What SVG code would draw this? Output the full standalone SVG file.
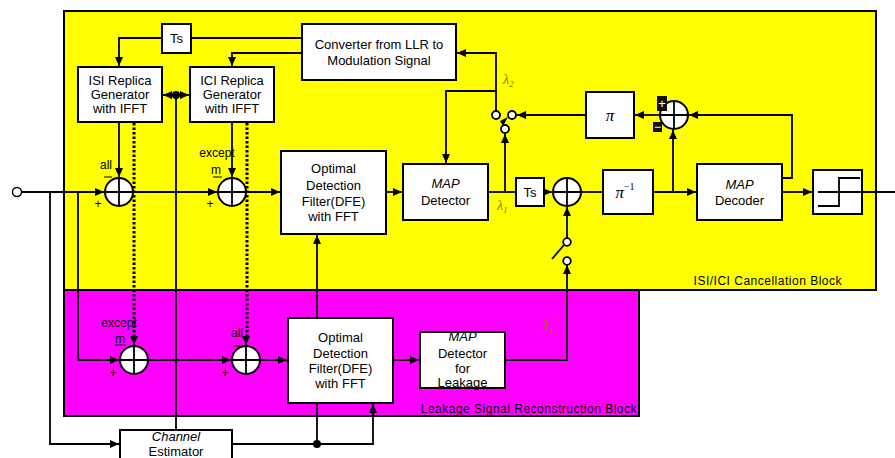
<svg xmlns="http://www.w3.org/2000/svg" width="895" height="458" viewBox="0 0 895 458">
<style>
.box{fill:#fff;stroke:#000;stroke-width:2}
.ln{fill:none;stroke:#000;stroke-width:1.8}
.dot{fill:none;stroke:#000;stroke-width:3;stroke-dasharray:2.5,2}
.t{font-family:"Liberation Sans",Arial,sans-serif;font-size:13px;fill:#000;text-anchor:middle}
.s{font-family:"Liberation Sans",Arial,sans-serif;font-size:12px;fill:#000}
.g{font-family:"Liberation Serif",serif;font-style:italic;fill:#8a7800;font-size:14px}
.pi{font-family:"Liberation Serif",serif;font-style:italic;font-size:17px;text-anchor:middle}
.sum circle{fill:#fff;stroke:#000;stroke-width:2}
.sum path{stroke:#000;stroke-width:1.8}
.sw{fill:#fff;stroke:#000;stroke-width:1.8}
.mn{stroke:#000;stroke-width:1}
</style>
<defs>
<marker id="a" markerWidth="10" markerHeight="10" refX="9" refY="5" orient="auto" markerUnits="userSpaceOnUse"><path d="M0,1 L9,5 L0,9 z" fill="#000"/></marker>
</defs>
<rect width="895" height="458" fill="#fff"/>
<g id="isi-ici-block">
<rect x="64" y="11" width="812" height="279" fill="#ffff00" stroke="#000" stroke-width="2"/>
<text class="s" x="842" y="285" text-anchor="end" style="letter-spacing:0.5px">ISI/ICI Cancellation Block</text>
</g>
<g id="leakage-block">
<rect x="64" y="290" width="575" height="126" fill="#ff00ff" stroke="#000" stroke-width="2"/>
<text class="s" x="637" y="413" text-anchor="end" style="letter-spacing:0.5px">Leakage Signal Reconstruction Block</text>
</g>
<g id="connectors">
<path class="ln" d="M22,192 H104" marker-end="url(#a)"/>
<path class="ln" d="M50,192 V444 H119" marker-end="url(#a)"/>
<path class="ln" d="M78,192 V360 H119" marker-end="url(#a)"/>
<path class="ln" d="M134,192 H217" marker-end="url(#a)"/>
<path class="ln" d="M247,192 H280" marker-end="url(#a)"/>
<path class="ln" d="M162,38 H119 V66" marker-end="url(#a)"/>
<path class="ln" d="M191,38 H302"/>
<path class="ln" d="M302,53 H232 V66" marker-end="url(#a)"/>
<path class="ln" d="M119,122 V177" marker-end="url(#a)"/>
<path class="ln" d="M232,122 V177" marker-end="url(#a)"/>
<path class="dot" d="M134,123 V337"/>
<path class="ln" d="M134,338 V345" marker-end="url(#a)"/>
<path class="dot" d="M247,123 V337"/>
<path class="ln" d="M246,338 V345" marker-end="url(#a)"/>
<path class="ln" d="M176,95 H163" marker-end="url(#a)"/>
<path class="ln" d="M176,95 H189" marker-end="url(#a)"/>
<path class="ln" d="M176,95 V430"/>
<circle cx="176" cy="95" r="4"/>
<path class="ln" d="M386,192 H402" marker-end="url(#a)"/>
<path class="ln" d="M488,192 H515"/>
<path class="ln" d="M544,192 H552" marker-end="url(#a)"/>
<path class="ln" d="M581,192 H603"/>
<path class="ln" d="M653,192 H696" marker-end="url(#a)"/>
<path class="ln" d="M782,192 H812" marker-end="url(#a)"/>
<path class="ln" d="M862,192 H895"/>
<path class="ln" d="M505,192 V134" marker-end="url(#a)"/>
<path class="ln" d="M496,111 V53 H457" marker-end="url(#a)"/>
<path class="ln" d="M496,91 H446 V163" marker-end="url(#a)"/>
<path class="ln" d="M586,115 H517" marker-end="url(#a)"/>
<path class="ln" d="M660,115 H635" marker-end="url(#a)"/>
<path class="ln" d="M673,192 V130" marker-end="url(#a)"/>
<path class="ln" d="M782,178 H792 V115 H689" marker-end="url(#a)"/>
<path class="ln" d="M148,360 H231" marker-end="url(#a)"/>
<path class="ln" d="M260,360 H287" marker-end="url(#a)"/>
<path class="ln" d="M393,360 H419" marker-end="url(#a)"/>
<path class="ln" d="M505,360 H567 V265" marker-end="url(#a)"/>
<path class="ln" d="M567,242 V207" marker-end="url(#a)"/>
<path class="ln" d="M232,444 H373 V404" marker-end="url(#a)"/>
<path class="ln" d="M317,444 V403"/>
<path class="ln" d="M317,318 V235" marker-end="url(#a)"/>
<circle cx="317" cy="444" r="4"/>
</g>
<g id="input-terminal"><circle cx="17" cy="192" r="4.5" fill="#fff" stroke="#000" stroke-width="1.5"/></g>
<g id="ts1"><rect class="box" x="162" y="24" width="29" height="29"/><text class="t" x="176.5" y="43">Ts</text></g>
<g id="isi-replica"><rect class="box" x="78" y="67" width="84" height="55"/>
<text class="t" x="120" y="85">ISI Replica</text><text class="t" x="120" y="99">Generator</text><text class="t" x="120" y="113">with IFFT</text></g>
<g id="ici-replica"><rect class="box" x="190" y="67" width="84" height="55"/>
<text class="t" x="232" y="85">ICI Replica</text><text class="t" x="232" y="99">Generator</text><text class="t" x="232" y="113">with IFFT</text></g>
<g id="converter"><rect class="box" x="302" y="24" width="154" height="56"/>
<text class="t" x="379" y="49">Converter from LLR to</text><text class="t" x="379" y="65">Modulation Signal</text></g>
<g id="sum1" class="sum"><circle cx="119" cy="192" r="14"/><path d="M105,192 H133 M119,178 V206"/></g>
<g id="sum1-labels"><text class="s" x="106" y="169" text-anchor="middle">all</text><path class="mn" d="M104,177 H112"/><text class="s" x="98" y="208" text-anchor="middle">+</text></g>
<g id="sum2" class="sum"><circle cx="232" cy="192" r="14"/><path d="M218,192 H246 M232,178 V206"/></g>
<g id="sum2-labels"><text class="s" x="217" y="157" text-anchor="middle">except</text><text class="s" x="216" y="174" text-anchor="middle">m</text><path class="mn" d="M213,177 H222"/><text class="s" x="210" y="208" text-anchor="middle">+</text></g>
<g id="odf1"><rect class="box" x="281" y="151" width="105" height="83"/>
<text class="t" x="333.5" y="173">Optimal</text><text class="t" x="333.5" y="190">Detection</text><text class="t" x="333.5" y="206">Filter(DFE)</text><text class="t" x="333.5" y="221">with FFT</text></g>
<g id="map-detector"><rect class="box" x="403" y="164" width="85" height="56"/>
<text class="t" x="445.5" y="188" font-style="italic">MAP</text><text class="t" x="445.5" y="205">Detector</text></g>
<g id="lambda1"><text class="g" x="497" y="210">λ<tspan font-size="9" dy="3">1</tspan></text></g>
<g id="lambda2"><text class="g" x="503" y="84">λ<tspan font-size="9" dy="3">2</tspan></text></g>
<g id="switch1">
<path d="M500,121 L508,117 L503,126 z" fill="#000"/>
<circle class="sw" cx="496" cy="115" r="4"/><circle class="sw" cx="512" cy="115" r="4"/><circle class="sw" cx="505" cy="129" r="4"/>
</g>
<g id="ts2"><rect class="box" x="516" y="178" width="28" height="28"/><text class="t" x="530" y="197">Ts</text></g>
<g id="sum3" class="sum"><circle cx="567" cy="192" r="14"/><path d="M553,192 H581 M567,178 V206"/></g>
<g id="switch2"><path class="ln" d="M552,259 L564,245"/><circle class="sw" cx="567" cy="242" r="3.8"/><circle class="sw" cx="567" cy="261" r="3.8"/></g>
<g id="deinterleaver"><rect class="box" x="603" y="170" width="50" height="44"/><text class="pi" x="625" y="198">π<tspan font-size="10" dy="-8" font-style="normal">−1</tspan></text></g>
<g id="interleaver"><rect class="box" x="586" y="92" width="48" height="46"/><text class="pi" x="610" y="121">π</text></g>
<g id="sum4" class="sum"><circle cx="674" cy="115" r="14"/><path d="M660,115 H688 M674,101 V129"/></g>
<g id="sum4-labels"><rect x="657" y="96" width="10" height="15" fill="#111"/><text x="662" y="108" fill="#fff" font-family="Liberation Sans,sans-serif" font-size="13" text-anchor="middle">+</text>
<rect x="653" y="122" width="9" height="10" fill="#111"/><text x="657.5" y="131" fill="#fff" font-family="Liberation Sans,sans-serif" font-size="12" text-anchor="middle">−</text></g>
<g id="map-decoder"><rect class="box" x="697" y="164" width="85" height="56"/>
<text class="t" x="739.5" y="189" font-style="italic">MAP</text><text class="t" x="739.5" y="205">Decoder</text></g>
<g id="hard-decision"><rect class="box" x="813" y="170" width="49" height="44"/><path class="ln" d="M818,206 H839 V178 H860 M818,192 H862"/></g>
<g id="sum5" class="sum"><circle cx="134" cy="360" r="14"/><path d="M120,360 H148 M134,346 V374"/></g>
<g id="sum5-labels"><text class="s" x="119" y="327" text-anchor="middle">except</text><text class="s" x="120" y="343" text-anchor="middle">m</text><path class="mn" d="M115,345 H126"/><text class="s" x="113" y="377" text-anchor="middle">+</text></g>
<g id="sum6" class="sum"><circle cx="246" cy="360" r="14"/><path d="M232,360 H260 M246,346 V374"/></g>
<g id="sum6-labels"><text class="s" x="237" y="337" text-anchor="middle">all</text><path class="mn" d="M233,346 H240"/><text class="s" x="225" y="377" text-anchor="middle">+</text></g>
<g id="odf2"><rect class="box" x="288" y="318" width="105" height="85"/>
<text class="t" x="340.5" y="342">Optimal</text><text class="t" x="340.5" y="358">Detection</text><text class="t" x="340.5" y="373">Filter(DFE)</text><text class="t" x="340.5" y="388">with FFT</text></g>
<g id="map-leakage"><rect class="box" x="420" y="332" width="85" height="56"/>
<text class="t" x="462.5" y="341" font-style="italic">MAP</text><text class="t" x="462.5" y="358">Detector</text><text class="t" x="462.5" y="373">for</text><text class="t" x="462.5" y="387">Leakage</text></g>
<g id="lambda1p"><text class="g" x="543" y="330">λ<tspan font-size="9" dy="3">1</tspan><tspan font-size="9" dy="-9">′</tspan></text></g>
<g id="channel-estimator"><rect class="box" x="120" y="430" width="112" height="32"/>
<text class="t" x="176" y="441" font-style="italic">Channel</text><text class="t" x="176" y="456">Estimator</text></g>
</svg>
